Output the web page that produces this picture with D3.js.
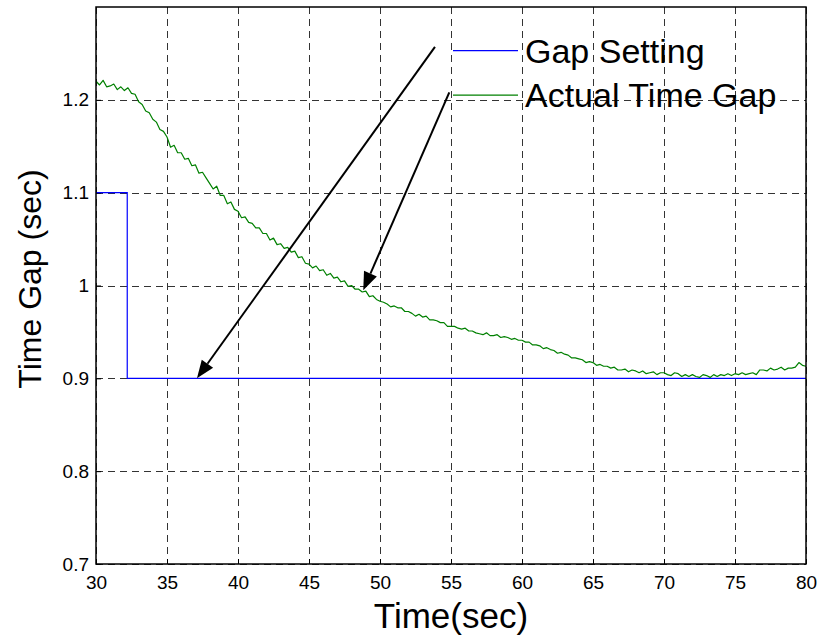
<!DOCTYPE html>
<html>
<head>
<meta charset="utf-8">
<script src="https://cdn.jsdelivr.net/npm/d3@7"></script>
<style>
  html, body { margin: 0; padding: 0; background: #fff; }
  svg { display: block; font-family: "Liberation Sans", Arial, sans-serif; }
</style>
</head>
<body>
<svg id="chart" width="821" height="640"></svg>
<script>
// ---- Data ----
const xTicks = [30, 35, 40, 45, 50, 55, 60, 65, 70, 75, 80];
const yTicks = [0.7, 0.8, 0.9, 1.0, 1.1, 1.2];
const yTickLabels = ["0.7", "0.8", "0.9", "1", "1.1", "1.2"];

const seriesNames = ["Gap Setting", "Actual Time Gap"];

// Gap setting (step)
const gapTimes = [30, 32.2, 80];
const gapValues = [1.1, 0.9, 0.9];

// Actual time gap, sampled every 0.25 s from 30 s to 80 s
const actualStart = 30, actualStep = 0.25;
const actualValues = [
  1.220, 1.216, 1.221, 1.214,
  1.215, 1.217, 1.211, 1.214,
  1.210, 1.213, 1.207, 1.206,
  1.198, 1.195, 1.188, 1.186,
  1.179, 1.176, 1.168, 1.166,
  1.160, 1.149, 1.151, 1.143,
  1.143, 1.136, 1.137, 1.129,
  1.130, 1.121, 1.122, 1.116,
  1.110, 1.104, 1.107, 1.097,
  1.097, 1.088, 1.090, 1.082,
  1.080, 1.073, 1.074, 1.068,
  1.067, 1.062, 1.062, 1.056,
  1.056, 1.049, 1.051, 1.044,
  1.045, 1.040, 1.041, 1.036,
  1.037, 1.030, 1.031, 1.024,
  1.023, 1.019, 1.021, 1.016,
  1.017, 1.011, 1.013, 1.008,
  1.009, 1.004, 1.005, 0.999,
  1.000, 0.996, 0.996, 0.993,
  0.994, 0.988, 0.989, 0.985,
  0.983, 0.982, 0.980, 0.977,
  0.978, 0.976, 0.976, 0.972,
  0.972, 0.970, 0.967, 0.969,
  0.966, 0.967, 0.963, 0.963,
  0.962, 0.960, 0.960, 0.956,
  0.956, 0.956, 0.954, 0.953,
  0.954, 0.951, 0.951, 0.949,
  0.948, 0.947, 0.949, 0.946,
  0.946, 0.947, 0.944, 0.945,
  0.944, 0.942, 0.943, 0.941,
  0.941, 0.939, 0.939, 0.936,
  0.936, 0.935, 0.932, 0.933,
  0.931, 0.930, 0.927, 0.928,
  0.926, 0.925, 0.922, 0.922,
  0.921, 0.920, 0.917, 0.918,
  0.917, 0.914, 0.915, 0.913,
  0.913, 0.911, 0.912, 0.909,
  0.909, 0.910, 0.907, 0.909,
  0.908, 0.906, 0.908, 0.905,
  0.906, 0.907, 0.904, 0.906,
  0.906, 0.904, 0.903, 0.906,
  0.905, 0.902, 0.904, 0.902,
  0.904, 0.902, 0.901, 0.904,
  0.903, 0.901, 0.904, 0.902,
  0.904, 0.903, 0.905, 0.903,
  0.905, 0.904, 0.906, 0.904,
  0.905, 0.906, 0.904, 0.909,
  0.909, 0.908, 0.911, 0.909,
  0.910, 0.912, 0.909, 0.911,
  0.911, 0.912, 0.917, 0.914,
  0.913
];

// Annotation arrows (data coordinates)
const arrowFromX = [53.87, 54.88];
const arrowFromY = [1.257, 1.208];
const arrowToX = [37.11, 48.82];
const arrowToY = [0.900, 0.995];

// ---- Layout ----
const svg = d3.select("#chart");
const padL = 96, padR = 806, padT = 7, padB = 564;

const x = d3.scaleLinear().domain([30, 80]).range([padL, padR]);
const y = d3.scaleLinear().domain([0.7, 1.3]).range([padB, padT]);

const defs = svg.append("defs");
defs.append("clipPath").attr("id", "clip")
  .append("rect").attr("x", padL).attr("y", padT)
  .attr("width", padR - padL).attr("height", padB - padT);

// Grid
const grid = svg.append("g").attr("stroke", "#333").attr("stroke-width", 1)
  .attr("stroke-dasharray", "7,5").attr("shape-rendering", "crispEdges");
grid.selectAll("line.vx").data(xTicks).join("line").attr("class", "vx")
  .attr("x1", d => Math.round(x(d)) + 0.5).attr("x2", d => Math.round(x(d)) + 0.5)
  .attr("y1", padT).attr("y2", padB);
grid.selectAll("line.hy").data(yTicks).join("line").attr("class", "hy")
  .attr("x1", padL).attr("x2", padR)
  .attr("y1", d => Math.round(y(d)) + 0.5).attr("y2", d => Math.round(y(d)) + 0.5);

// Axes (inward ticks)
const xAxis = d3.axisBottom(x).tickValues(xTicks).tickSize(-5).tickPadding(12).tickFormat(d3.format("d"));
const gx = svg.append("g").attr("transform", `translate(0,${padB})`).call(xAxis);
gx.select(".domain").remove();
gx.selectAll("text").attr("font-size", 19).attr("fill", "#000")
  .attr("font-family", "Liberation Sans, Arial, sans-serif");
gx.selectAll("line").attr("stroke", "#000");

const yAxis = d3.axisLeft(y).tickValues(yTicks).tickSize(-5).tickPadding(7)
  .tickFormat((d, i) => yTickLabels[i]);
const gy = svg.append("g").attr("transform", `translate(${padL},0)`).call(yAxis);
gy.select(".domain").remove();
gy.selectAll("text").attr("font-size", 19).attr("fill", "#000")
  .attr("font-family", "Liberation Sans, Arial, sans-serif");
gy.selectAll("line").attr("stroke", "#000");

// Data lines
const plot = svg.append("g").attr("clip-path", "url(#clip)");
const gapData = gapTimes.map((t, i) => [t, gapValues[i]]);
plot.append("path").datum(gapData)
  .attr("fill", "none").attr("stroke", "#0000ff").attr("stroke-width", 1.2)
  .attr("d", d3.line().x(d => x(d[0])).y(d => y(d[1])).curve(d3.curveStepAfter));

const actualData = actualValues.map((v, i) => [actualStart + i * actualStep, v]);
plot.append("path").datum(actualData)
  .attr("fill", "none").attr("stroke", "#008000").attr("stroke-width", 1.2)
  .attr("stroke-linejoin", "round")
  .attr("d", d3.line().x(d => x(d[0])).y(d => y(d[1])));

// Box
svg.append("rect").attr("x", padL).attr("y", padT)
  .attr("width", padR - padL).attr("height", padB - padT)
  .attr("fill", "none").attr("stroke", "#000").attr("stroke-width", 1.5);

// Legend (no box)
const legendColors = ["#0000ff", "#008000"];
const legendY = [y(1.253), y(1.205)];
const legend = svg.append("g");
seriesNames.forEach((name, i) => {
  legend.append("line")
    .attr("x1", 453).attr("x2", 518)
    .attr("y1", legendY[i]).attr("y2", legendY[i])
    .attr("stroke", legendColors[i]).attr("stroke-width", 1.2);
  legend.append("text")
    .attr("x", 525).attr("y", legendY[i] + 12)
    .attr("font-size", 34).attr("fill", "#000")
    .text(name);
});

// Arrows with explicit filled heads
const headLen = 18, headHalf = 7;
arrowFromX.forEach((fx, i) => {
  const x1 = x(fx), y1 = y(arrowFromY[i]);
  const x2 = x(arrowToX[i]), y2 = y(arrowToY[i]);
  const len = Math.hypot(x2 - x1, y2 - y1);
  const ux = (x2 - x1) / len, uy = (y2 - y1) / len;
  const bx = x2 - ux * headLen, by = y2 - uy * headLen;
  svg.append("line")
    .attr("x1", x1).attr("y1", y1)
    .attr("x2", bx).attr("y2", by)
    .attr("stroke", "#000").attr("stroke-width", 2);
  svg.append("path")
    .attr("d", `M${x2},${y2} L${bx - uy * headHalf},${by + ux * headHalf} L${bx + uy * headHalf},${by - ux * headHalf} Z`)
    .attr("fill", "#000");
});

// Axis labels
svg.append("text")
  .attr("x", (padL + padR) / 2).attr("y", 628)
  .attr("text-anchor", "middle").attr("font-size", 35).attr("fill", "#000")
  .text("Time(sec)");
svg.append("text")
  .attr("transform", `translate(41,279) rotate(-90)`)
  .attr("text-anchor", "middle").attr("font-size", 32).attr("fill", "#000")
  .text("Time Gap (sec)");
</script>
</body>
</html>
